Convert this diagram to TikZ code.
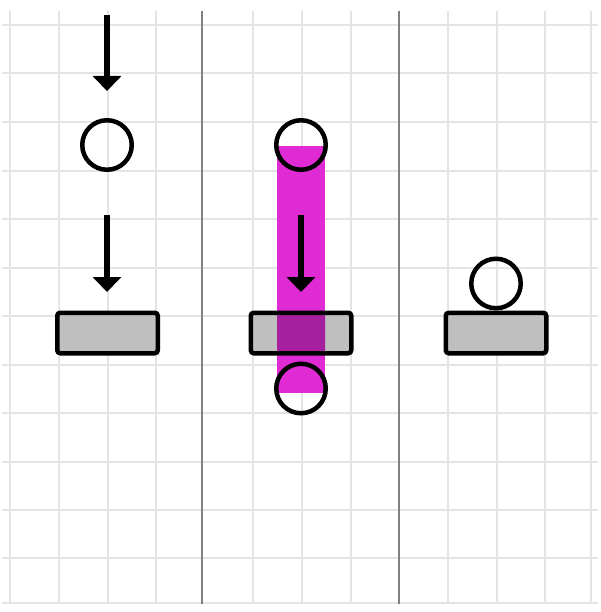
\documentclass[tikz,border=0pt]{standalone}
\usepackage{tikz}
\usetikzlibrary{arrows.meta, positioning}

\definecolor{plategray}{HTML}{BFBFBF}
\definecolor{streakmag}{HTML}{E02AD4}
\definecolor{overlapmag}{HTML}{A61F9F}
\definecolor{gridgray}{HTML}{E4E4E4}
\definecolor{dividergray}{HTML}{808080}

\begin{document}
\begin{tikzpicture}[
    x=1pt, y=-1pt,
    ball/.style={circle, draw, line width=4.5pt, minimum size=49.5pt, inner sep=0pt},
    plate/.style={rectangle, draw, line width=4.5pt, rounded corners=3pt, fill=plategray, minimum width=100.5pt, minimum height=40.5pt, inner sep=0pt},
    streak/.style={rectangle, fill=streakmag, minimum width=48pt, minimum height=247pt, inner sep=0pt, outer sep=0pt},
    fall/.style={line width=6pt, -{Triangle[width=28pt, length=15pt]}},
    gridline/.style={gridgray, line width=1.2pt},
    divider/.style={dividergray, line width=2pt}
  ]
    \useasboundingbox (0,0) rectangle (600,612);

    \foreach \x in {10,59,108,156,253,302,351,448,497,545,591}
      \draw[gridline] (\x,11) -- (\x,603);
    \foreach \y in {25,73,122,171,219,268,316,365,413,462,510,558,603}
      \draw[gridline] (2,\y) -- (598,\y);
    \draw[divider] (202,11) -- (202,604);
    \draw[divider] (399,11) -- (399,604);

    \node[streak] (streak2) at (301,269.5) {};

    \node[plate] (plate1) at (107.5,333) {};
    \node[plate, path picture={\fill[overlapmag] (streak2.north west) rectangle (streak2.south east);}] (plate2) at (301,333) {};
    \node[plate] (plate3) at (496,333) {};

    \node[ball] (ball1) at (107,145) {};
    \node[ball] (ball2) at (301,145) {};
    \node[ball] (ball2b) at (301,388.5) {};
    \node[ball, above=0pt of plate3] (ball3) {};

    \coordinate (drop1) at (107,15);
    \coordinate (hit1) at (107,91);
    \coordinate (drop2) at (107,215);
    \coordinate (hit2) at (107,292);
    \coordinate (drop3) at (301,215);
    \coordinate (hit3) at (301,292);

    \draw[fall] (drop1) -- (hit1);
    \draw[fall] (drop2) -- (hit2);
    \draw[fall] (drop3) -- (hit3);
\end{tikzpicture}
\end{document}
